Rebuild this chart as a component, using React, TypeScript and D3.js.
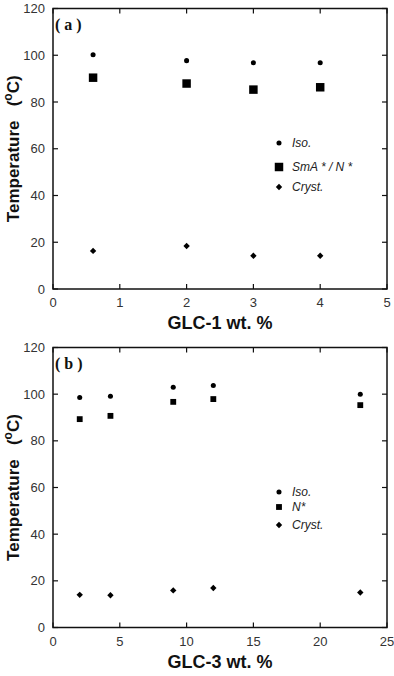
import React from 'react'
import * as d3 from 'd3'

// panel (a): GLC-1
const glc1Wt = [0.6, 2, 3, 4]
const glc1Iso = [100.2, 97.7, 96.8, 96.8]
const glc1SmA = [90.4, 87.9, 85.3, 86.3]
const glc1Cryst = [16.3, 18.4, 14.2, 14.2]
const glc1XTicks = [0, 1, 2, 3, 4, 5]

// panel (b): GLC-3
const glc3Wt = [2, 4.3, 9, 12, 23]
const glc3Iso = [98.6, 99.1, 103, 103.7, 100]
const glc3N = [89.3, 90.7, 96.7, 97.9, 95.3]
const glc3Cryst = [14, 13.8, 15.9, 16.9, 15]
const glc3XTicks = [0, 5, 10, 15, 20, 25]

const yTicks = [0, 20, 40, 60, 80, 100, 120]

const FONT = "'Liberation Sans', Arial, sans-serif"
const SERIF = "'Liberation Serif', 'Times New Roman', serif"

type Series = { name: string; values: number[]; symbol: d3.SymbolType; size: number }

type PanelProps = {
  top: number
  bottom: number
  xMax: number
  xTicks: number[]
  xValues: number[]
  series: Series[]
  label: string
  xTitle: string
  legendY: number[]
}

const left = 53
const right = 387
const tickLen = 5

function Panel(props: PanelProps) {
  const { top, bottom, xMax, xTicks, xValues, series, label, xTitle, legendY } = props
  const x = d3.scaleLinear().domain([0, xMax]).range([left, right])
  const y = d3.scaleLinear().domain([0, 120]).range([bottom, top])

  return (
    <g>
      <rect x={left} y={top} width={right - left} height={bottom - top}
        fill="none" stroke="#111" strokeWidth={1.5} />
      {yTicks.map(t => (
        <g key={'y' + t}>
          <line x1={left} x2={left + tickLen} y1={y(t)} y2={y(t)} stroke="#111" strokeWidth={1.2} />
          <line x1={right} x2={right - tickLen} y1={y(t)} y2={y(t)} stroke="#111" strokeWidth={1.2} />
          <text x={45} y={y(t)} dy="0.35em" textAnchor="end" fontSize={13} fontFamily={FONT} fill="#333">{t}</text>
        </g>
      ))}
      {xTicks.map(t => (
        <g key={'x' + t}>
          <line x1={x(t)} x2={x(t)} y1={bottom} y2={bottom - tickLen} stroke="#111" strokeWidth={1.2} />
          <line x1={x(t)} x2={x(t)} y1={top} y2={top + tickLen} stroke="#111" strokeWidth={1.2} />
          <text x={x(t)} y={bottom + 18} textAnchor="middle" fontSize={13} fontFamily={FONT} fill="#333">{t}</text>
        </g>
      ))}
      <text x={x(xMax / 2)} y={bottom + 40} textAnchor="middle" fontSize={18} fontWeight="bold" fontFamily={FONT} fill="#111">{xTitle}</text>
      <text transform={`translate(19,${(top + bottom) / 2}) rotate(-90)`} textAnchor="middle"
        fontSize={17} fontWeight="bold" fontFamily={FONT} fill="#111">
        Temperature{'\u00a0\u00a0\u00a0'}(<tspan fontSize={12} dy={-7}>o</tspan><tspan dy={7}>C)</tspan>
      </text>
      <text x={55} y={top + 21} fontSize={16} fontWeight="bold" fontFamily={SERIF} fill="#111">{label}</text>
      {series.map(s => {
        const path = d3.symbol().type(s.symbol).size(s.size)() || ''
        return (
          <g key={s.name}>
            {s.values.map((v, i) => (
              <path key={i} d={path} transform={`translate(${x(xValues[i])},${y(v)})`} fill="#000" />
            ))}
          </g>
        )
      })}
      {series.map((s, i) => {
        const path = d3.symbol().type(s.symbol).size(s.size)() || ''
        return (
          <g key={'leg' + s.name} transform={`translate(279,${legendY[i]})`}>
            <path d={path} fill="#000" />
            <text x={13} dy="0.35em" fontSize={12} fontStyle="italic" fontFamily={FONT} fill="#222">{s.name}</text>
          </g>
        )
      })}
    </g>
  )
}

export default function App() {
  const seriesA: Series[] = [
    { name: 'Iso.', values: glc1Iso, symbol: d3.symbolCircle, size: 20 },
    { name: 'SmA * / N *', values: glc1SmA, symbol: d3.symbolSquare, size: 72 },
    { name: 'Cryst.', values: glc1Cryst, symbol: d3.symbolDiamond2, size: 26 },
  ]
  const seriesB: Series[] = [
    { name: 'Iso.', values: glc3Iso, symbol: d3.symbolCircle, size: 20 },
    { name: 'N*', values: glc3N, symbol: d3.symbolSquare, size: 34 },
    { name: 'Cryst.', values: glc3Cryst, symbol: d3.symbolDiamond2, size: 26 },
  ]
  return (
    <svg width={394} height={676} style={{ position: 'absolute', left: 0, top: 0, background: '#fff' }}>
      <Panel top={8.5} bottom={289} xMax={5} xTicks={glc1XTicks} xValues={glc1Wt}
        series={seriesA} label="( a )" xTitle="GLC-1 wt. %" legendY={[143, 167, 187]} />
      <Panel top={347.5} bottom={627.5} xMax={25} xTicks={glc3XTicks} xValues={glc3Wt}
        series={seriesB} label="( b )" xTitle="GLC-3 wt. %" legendY={[492, 507, 525]} />
    </svg>
  )
}
